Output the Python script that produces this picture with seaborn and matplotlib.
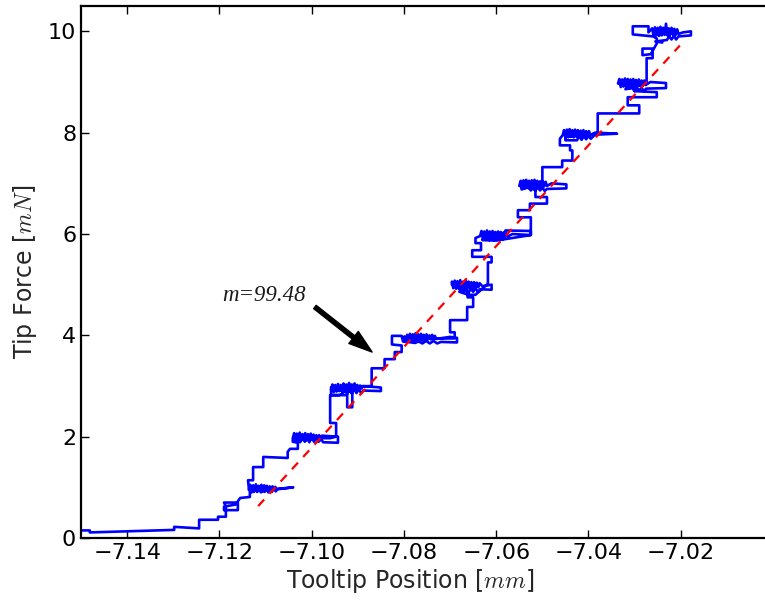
import numpy as np
import pandas as pd
import matplotlib
matplotlib.use('Agg')
import matplotlib.pyplot as plt
import seaborn as sns

# ==================== DATA ====================
# blue force trace, traced segment by segment (x in mm, y in mN)
tail = [(-7.1500, 0.15), (-7.1481, 0.15), (-7.1481, 0.11), (-7.1298, 0.16), (-7.1298, 0.22),
        (-7.1244, 0.19), (-7.1244, 0.36), (-7.1203, 0.36), (-7.1203, 0.42), (-7.1186, 0.42),
        (-7.1186, 0.62), (-7.1190, 0.70), (-7.1160, 0.70), (-7.1160, 0.55), (-7.1190, 0.55),
        (-7.1190, 0.62), (-7.1165, 0.66), (-7.1155, 0.79), (-7.1134, 0.81), (-7.1134, 0.95)]
plateau_1 = [(-7.1136, 0.95), (-7.1133, 1.05), (-7.1130, 0.90), (-7.1127, 1.04), (-7.1124, 0.92),
             (-7.1121, 1.06), (-7.1118, 0.91), (-7.1115, 1.03), (-7.1112, 0.93), (-7.1109, 1.05),
             (-7.1106, 0.92), (-7.1103, 1.04), (-7.1100, 0.94), (-7.1097, 1.03), (-7.1094, 0.93),
             (-7.1091, 1.02), (-7.1088, 0.95), (-7.1085, 1.02), (-7.1082, 0.95), (-7.1079, 1.01),
             (-7.1076, 0.96), (-7.1040, 1.00),
             (-7.1074, 0.97), (-7.1078, 0.92), (-7.1082, 1.00), (-7.1086, 0.91), (-7.1090, 0.99),
             (-7.1094, 0.90), (-7.1098, 0.98), (-7.1102, 0.91), (-7.1106, 0.99), (-7.1110, 0.90),
             (-7.1114, 0.98), (-7.1118, 0.92), (-7.1122, 1.00), (-7.1126, 0.91), (-7.1130, 0.99),
             (-7.1136, 0.96)]
rise_1 = [(-7.1138, 1.14), (-7.1127, 1.14), (-7.1127, 1.40), (-7.1105, 1.40), (-7.1105, 1.60),
          (-7.1052, 1.58), (-7.1052, 1.70), (-7.1047, 1.76), (-7.1030, 1.76), (-7.1030, 1.88),
          (-7.1041, 1.90)]
plateau_2 = [(-7.1041, 1.97), (-7.1038, 2.07), (-7.1035, 1.92), (-7.1032, 2.06), (-7.1029, 1.93),
             (-7.1026, 2.08), (-7.1023, 1.92), (-7.1020, 2.05), (-7.1017, 1.94), (-7.1014, 2.07),
             (-7.1011, 1.93), (-7.1008, 2.05), (-7.1005, 1.94), (-7.1002, 2.06), (-7.0999, 1.95),
             (-7.0996, 2.04), (-7.0993, 1.94), (-7.0990, 2.03), (-7.0987, 1.96), (-7.0984, 2.03),
             (-7.0981, 1.96), (-7.0978, 2.02), (-7.0943, 2.00),
             (-7.0943, 1.88), (-7.0975, 1.89), (-7.0980, 1.95), (-7.0985, 1.90), (-7.0990, 1.98),
             (-7.0995, 1.90), (-7.1000, 1.99), (-7.1005, 1.89), (-7.1010, 1.98), (-7.1015, 1.90),
             (-7.1020, 1.99), (-7.1025, 1.89), (-7.1030, 1.97), (-7.1036, 1.90), (-7.1036, 1.97),
             (-7.0960, 1.97)]
rise_2 = [(-7.0947, 2.00), (-7.0947, 2.27), (-7.0960, 2.27), (-7.0960, 2.82), (-7.0923, 2.82),
          (-7.0923, 2.58), (-7.0912, 2.58), (-7.0912, 2.88)]
plateau_3 = [(-7.0958, 2.93), (-7.0955, 3.03), (-7.0952, 2.88), (-7.0949, 3.02), (-7.0946, 2.89),
             (-7.0943, 3.04), (-7.0940, 2.90), (-7.0937, 3.02), (-7.0934, 2.89), (-7.0931, 3.05),
             (-7.0928, 2.91), (-7.0925, 3.03), (-7.0922, 2.90), (-7.0919, 3.06), (-7.0916, 2.92),
             (-7.0913, 3.03), (-7.0910, 2.91), (-7.0907, 3.05), (-7.0904, 2.93), (-7.0901, 3.02),
             (-7.0898, 2.93), (-7.0895, 3.01), (-7.0892, 2.95), (-7.0889, 3.00), (-7.0850, 2.97),
             (-7.0850, 2.90), (-7.0888, 2.91), (-7.0893, 2.86), (-7.0898, 2.94), (-7.0903, 2.86),
             (-7.0908, 2.95), (-7.0913, 2.85), (-7.0918, 2.94), (-7.0923, 2.84), (-7.0928, 2.93),
             (-7.0933, 2.85), (-7.0940, 2.82), (-7.0958, 2.82), (-7.0958, 2.97)]
rise_3 = [(-7.0870, 3.00), (-7.0870, 3.35), (-7.0842, 3.35), (-7.0842, 3.53), (-7.0820, 3.53),
          (-7.0820, 3.67), (-7.0805, 3.67), (-7.0805, 3.80), (-7.0826, 3.82)]
plateau_4 = [(-7.0826, 3.90), (-7.0826, 3.99), (-7.0805, 3.99), (-7.0802, 3.88), (-7.0799, 3.98),
             (-7.0796, 3.87), (-7.0793, 4.01), (-7.0790, 3.89), (-7.0787, 4.03), (-7.0784, 3.90),
             (-7.0781, 4.02), (-7.0778, 3.89), (-7.0775, 4.04), (-7.0772, 3.90), (-7.0769, 4.02),
             (-7.0766, 3.91), (-7.0763, 4.03), (-7.0760, 3.90), (-7.0757, 4.01), (-7.0754, 3.91),
             (-7.0751, 4.02), (-7.0748, 3.92), (-7.0745, 4.00), (-7.0742, 3.92), (-7.0739, 4.01),
             (-7.0736, 3.93), (-7.0733, 3.99), (-7.0730, 3.93), (-7.0700, 3.97), (-7.0685, 3.95),
             (-7.0685, 3.86), (-7.0720, 3.87), (-7.0728, 3.84), (-7.0736, 3.89), (-7.0744, 3.84),
             (-7.0752, 3.89), (-7.0760, 3.84), (-7.0768, 3.88), (-7.0776, 3.85), (-7.0800, 3.88),
             (-7.0800, 3.93)]
rise_4 = [(-7.0690, 3.94), (-7.0690, 4.06), (-7.0700, 4.06), (-7.0700, 4.30), (-7.0663, 4.30),
          (-7.0663, 4.56), (-7.0650, 4.56), (-7.0650, 4.75), (-7.0662, 4.75), (-7.0662, 4.88)]
plateau_5 = [(-7.0680, 4.92), (-7.0696, 5.00), (-7.0696, 5.06), (-7.0693, 4.93), (-7.0690, 5.08),
             (-7.0687, 4.92), (-7.0684, 5.07), (-7.0681, 4.93), (-7.0678, 5.09), (-7.0675, 4.92),
             (-7.0672, 5.06), (-7.0669, 4.93), (-7.0666, 5.08), (-7.0663, 4.92), (-7.0660, 5.06),
             (-7.0657, 4.94), (-7.0654, 5.05), (-7.0651, 4.93), (-7.0648, 5.05), (-7.0645, 4.95),
             (-7.0642, 5.04), (-7.0639, 4.95), (-7.0636, 5.03), (-7.0630, 4.97), (-7.0610, 5.00),
             (-7.0610, 4.90), (-7.0635, 4.91), (-7.0640, 4.86), (-7.0645, 4.93), (-7.0650, 4.86),
             (-7.0655, 4.92), (-7.0660, 4.84), (-7.0665, 4.92), (-7.0670, 4.86), (-7.0675, 4.93),
             (-7.0680, 4.86), (-7.0660, 4.80), (-7.0645, 4.80)]
rise_5 = [(-7.0618, 5.02), (-7.0618, 5.44), (-7.0610, 5.44), (-7.0610, 5.55), (-7.0652, 5.55),
          (-7.0652, 5.68), (-7.0633, 5.68), (-7.0633, 5.82), (-7.0645, 5.82), (-7.0645, 5.92)]
plateau_6 = [(-7.0635, 5.96), (-7.0632, 6.06), (-7.0629, 5.90), (-7.0626, 6.05), (-7.0623, 5.91),
             (-7.0620, 6.07), (-7.0617, 5.92), (-7.0614, 6.05), (-7.0611, 5.91), (-7.0608, 6.06),
             (-7.0605, 5.92), (-7.0602, 6.04), (-7.0599, 5.91), (-7.0596, 6.05), (-7.0593, 5.93),
             (-7.0590, 6.04), (-7.0587, 5.93), (-7.0584, 6.03), (-7.0581, 5.94), (-7.0578, 6.02),
             (-7.0575, 5.95), (-7.0565, 6.00), (-7.0525, 5.98),
             (-7.0525, 6.06), (-7.0580, 6.07), (-7.0585, 5.90), (-7.0590, 5.98), (-7.0595, 5.89),
             (-7.0600, 5.97), (-7.0605, 5.88), (-7.0610, 5.97), (-7.0615, 5.88), (-7.0620, 5.96),
             (-7.0630, 5.88), (-7.0600, 5.87)]
rise_6 = [(-7.0525, 5.98), (-7.0525, 6.33), (-7.0553, 6.33), (-7.0553, 6.47), (-7.0527, 6.47),
          (-7.0527, 6.60), (-7.0490, 6.60), (-7.0490, 6.73), (-7.0515, 6.73), (-7.0515, 6.88)]
plateau_7 = [(-7.0550, 6.95), (-7.0547, 7.05), (-7.0544, 6.90), (-7.0541, 7.06), (-7.0538, 6.91),
             (-7.0535, 7.07), (-7.0532, 6.92), (-7.0529, 7.05), (-7.0526, 6.91), (-7.0523, 7.06),
             (-7.0520, 6.92), (-7.0517, 7.07), (-7.0514, 6.93), (-7.0511, 7.05), (-7.0508, 6.93),
             (-7.0505, 7.04), (-7.0502, 6.92), (-7.0499, 7.04), (-7.0496, 6.94), (-7.0493, 7.03),
             (-7.0490, 6.95), (-7.0480, 7.00), (-7.0448, 6.98),
             (-7.0448, 6.90), (-7.0490, 6.89), (-7.0495, 6.85), (-7.0500, 6.92), (-7.0505, 6.86),
             (-7.0510, 6.93), (-7.0515, 6.85), (-7.0520, 6.92), (-7.0525, 6.86), (-7.0530, 6.92),
             (-7.0545, 6.88), (-7.0545, 7.00), (-7.0515, 7.00)]
rise_7 = [(-7.0500, 7.00), (-7.0500, 7.32), (-7.0457, 7.32), (-7.0457, 7.45), (-7.0435, 7.45),
          (-7.0435, 7.65), (-7.0440, 7.65), (-7.0440, 7.75), (-7.0462, 7.75), (-7.0462, 7.88)]
plateau_8 = [(-7.0456, 7.95), (-7.0453, 8.05), (-7.0450, 7.90), (-7.0447, 8.06), (-7.0444, 7.91),
             (-7.0441, 8.07), (-7.0438, 7.92), (-7.0435, 8.05), (-7.0432, 7.91), (-7.0429, 8.06),
             (-7.0426, 7.92), (-7.0423, 8.05), (-7.0420, 7.92), (-7.0417, 8.04), (-7.0414, 7.93),
             (-7.0411, 8.05), (-7.0408, 7.93), (-7.0405, 8.03), (-7.0402, 7.94), (-7.0399, 8.03),
             (-7.0396, 7.95), (-7.0386, 8.00), (-7.0338, 7.98),
             (-7.0386, 7.96), (-7.0395, 7.88), (-7.0400, 7.94), (-7.0405, 7.87), (-7.0410, 7.93),
             (-7.0415, 7.86), (-7.0420, 7.93), (-7.0425, 7.85), (-7.0450, 7.85), (-7.0450, 7.92)]
rise_8 = [(-7.0380, 7.98), (-7.0380, 8.38), (-7.0290, 8.38), (-7.0290, 8.54), (-7.0315, 8.54),
          (-7.0315, 8.70), (-7.0252, 8.70), (-7.0252, 8.80), (-7.0300, 8.82), (-7.0300, 8.90)]
plateau_9 = [(-7.0336, 8.97), (-7.0333, 9.06), (-7.0330, 8.90), (-7.0327, 9.05), (-7.0324, 8.91),
             (-7.0321, 9.07), (-7.0318, 8.91), (-7.0315, 9.06), (-7.0312, 8.92), (-7.0309, 9.05),
             (-7.0306, 8.91), (-7.0303, 9.06), (-7.0300, 8.92), (-7.0297, 9.04), (-7.0294, 8.92),
             (-7.0291, 9.05), (-7.0288, 8.93), (-7.0285, 9.03), (-7.0282, 8.93), (-7.0279, 9.03),
             (-7.0276, 8.94), (-7.0266, 9.00), (-7.0232, 8.98),
             (-7.0232, 8.88), (-7.0275, 8.87), (-7.0280, 8.82), (-7.0285, 8.89), (-7.0290, 8.83),
             (-7.0295, 8.89), (-7.0300, 8.82), (-7.0305, 8.88), (-7.0320, 8.86)]
rise_9 = [(-7.0274, 8.97), (-7.0274, 9.47), (-7.0261, 9.47), (-7.0261, 9.66), (-7.0283, 9.66),
          (-7.0283, 9.53), (-7.0265, 9.55), (-7.0252, 9.76), (-7.0252, 9.86)]
plateau_10 = [(-7.0260, 9.90), (-7.0304, 9.94), (-7.0304, 10.10), (-7.0270, 10.10), (-7.0270, 9.98),
              (-7.0262, 10.06), (-7.0259, 9.91), (-7.0256, 10.08), (-7.0253, 9.92), (-7.0250, 10.07),
              (-7.0247, 9.91), (-7.0244, 10.09), (-7.0241, 9.92), (-7.0238, 10.07), (-7.0235, 9.93),
              (-7.0232, 10.15), (-7.0229, 9.92), (-7.0226, 10.06), (-7.0223, 9.93), (-7.0220, 10.07),
              (-7.0217, 9.94), (-7.0214, 10.05), (-7.0211, 9.93), (-7.0208, 10.04), (-7.0205, 9.95),
              (-7.0195, 9.98), (-7.0178, 10.00),
              (-7.0178, 9.92), (-7.0205, 9.90), (-7.0210, 9.84), (-7.0215, 9.91), (-7.0220, 9.84),
              (-7.0225, 9.90), (-7.0230, 9.83), (-7.0255, 9.80), (-7.0240, 9.78)]

# linear fit (red dashed), slope m = 99.48 mN/mm
fit_x = [-7.1116, -7.0202]
fit_y = [0.63, 9.72]
slope_label = 'm=99.48'
arrow_tail = (-7.0993, 4.56)
arrow_tip = (-7.0869, 3.67)
label_pos = (-7.1194, 4.79)

xtick_vals = [-7.14, -7.12, -7.10, -7.08, -7.06, -7.04, -7.02]
xtick_labels = ['\u22127.14', '\u22127.12', '\u22127.10', '\u22127.08', '\u22127.06', '\u22127.04', '\u22127.02']
ytick_vals = [0, 2, 4, 6, 8, 10]

segments = [tail, plateau_1, rise_1, plateau_2, rise_2, plateau_3, rise_3, plateau_4, rise_4,
            plateau_5, rise_5, plateau_6, rise_6, plateau_7, rise_7, plateau_8, rise_8,
            plateau_9, rise_9, plateau_10]
trace = pd.DataFrame([p for seg in segments for p in seg], columns=['pos', 'force'])

# ==================== PLOT ====================
sns.set_style('ticks')
plt.rcParams['font.family'] = ['DejaVu Sans']
plt.rcParams['mathtext.fontset'] = 'cm'

fig = plt.figure(figsize=(7.65, 6.02), dpi=100)
ax = fig.add_axes([0.1059, 0.1063, 0.9046, 0.8837])

sns.lineplot(data=trace, x='pos', y='force', sort=False, estimator=None,
             color='#0000ff', lw=1.9, ax=ax)
sns.lineplot(x=fit_x, y=fit_y, color='#ff0000', lw=1.6,
             linestyle=(0, (4, 3.5)), ax=ax)

ax.text(label_pos[0], label_pos[1], slope_label, ha='left', va='center',
        fontsize=16.5, family='Liberation Serif', style='italic', color='#1a1a1a')
ax.annotate('', xy=arrow_tip, xytext=arrow_tail,
            arrowprops=dict(facecolor='black', edgecolor='black',
                            width=3, headwidth=11, headlength=17, shrink=0))

ax.set_xlim(-7.15, -7.00)
ax.set_ylim(0, 10.5)
ax.set_xticks(xtick_vals)
ax.set_xticklabels(xtick_labels)
ax.set_yticks(ytick_vals)
ax.tick_params(direction='in', top=True, right=True, length=6, width=1,
               labelsize=16, colors='black')
for sp in ax.spines.values():
    sp.set_visible(True)
    sp.set_linewidth(1.6)
    sp.set_color('black')

ax.set_xlabel('Tooltip Position [$mm$]', fontsize=17)
ax.set_ylabel('Tip Force [$mN$]', fontsize=17, labelpad=6)
ax.xaxis.set_label_coords(0.475, -0.054)

plt.savefig('out.png', dpi=100)
plt.close()
